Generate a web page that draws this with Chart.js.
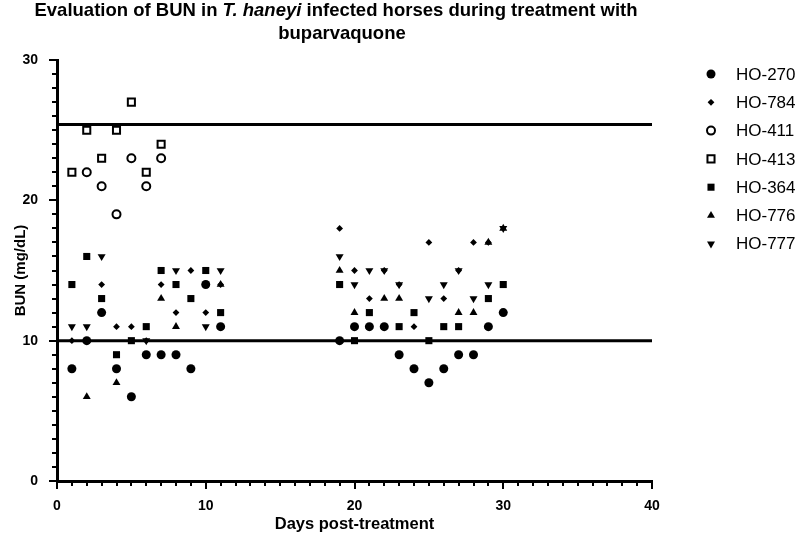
<!DOCTYPE html>
<html>
<head>
<meta charset="utf-8">
<script src="https://cdn.jsdelivr.net/npm/chart.js@4.4.1/dist/chart.umd.min.js"></script>
<style>
html,body{margin:0;padding:0;background:#fff;}
#wrap{width:796px;height:539px;position:relative;}
</style>
</head>
<body>
<div id="wrap"><canvas id="c" width="796" height="539"></canvas></div>
<script>
// ---- data ----
const days  = [1, 2, 3, 4, 5, 6, 7, 8, 9, 10, 11, 19, 20, 21, 22, 23, 24, 25, 26, 27, 28, 29, 30];
const horses = ['HO-270', 'HO-784', 'HO-411', 'HO-413', 'HO-364', 'HO-776', 'HO-777'];
const ho270 = [8, 10, 12, 8, 6, 9, 9, 9, 8, 14, 11, 10, 11, 11, 11, 9, 8, 7, 8, 9, 9, 11, 12];
const ho784 = [10, null, 14, 11, 11, 10, 14, 12, 15, 12, 14, 18, 15, 13, 15, 14, 11, 17, 13, 15, 17, 17, null];
const ho411 = [null, 22, 21, 19, 23, 21, 23, null, null, null, null, null, null, null, null, null, null, null, null, null, null, null, null];
const ho413 = [22, 25, 23, 25, 27, 22, 24, null, null, null, null, null, null, null, null, null, null, null, null, null, null, null, null];
const ho364 = [14, 16, 13, 9, 10, 11, 15, 14, 13, 15, 12, 14, 10, 12, null, 11, 12, 10, 11, 11, null, 13, 14];
const ho776 = [null, 6, null, 7, null, null, 13, 11, null, null, 14, 15, 12, null, 13, 13, null, null, null, 12, 12, 17, 18];
const ho777 = [11, 11, 16, null, null, 10, null, 15, null, 11, 15, 16, 14, 15, 15, 14, null, 13, 14, 15, 13, 14, 18];
const refLow = 10;
const refHigh = 25.4;
const xRange = [0, 40];
const yRange = [0, 30];
const xTickLabels = [0, 10, 20, 30, 40];
const yTickLabels = [0, 10, 20, 30];
const titleLine1 = ['Evaluation of BUN in ', 'T. haneyi', ' infected horses during treatment with'];
const titleLine2 = 'buparvaquone';

// ---- styles ----
const FONT = "'Liberation Sans', Arial, Helvetica, sans-serif";
Chart.defaults.font.family = FONT;
Chart.defaults.color = '#000';

const seriesVals = [ho270, ho784, ho411, ho413, ho364, ho776, ho777];
const styles = [
  {pointStyle: 'circle', radius: 4.5, rotation: 0, fill: '#000', bw: 0, order: 1},
  {pointStyle: 'rectRot', radius: 3.4, rotation: 0, fill: '#000', bw: 0, order: 5},
  {pointStyle: 'circle', radius: 4, rotation: 0, fill: '#fff', bw: 2, order: 6},
  {pointStyle: 'rect', radius: 5, rotation: 0, fill: '#fff', bw: 2, order: 7},
  {pointStyle: 'rect', radius: 5, rotation: 0, fill: '#000', bw: 0, order: 4},
  {pointStyle: 'triangle', radius: 4.6, rotation: 0, fill: '#000', bw: 0, order: 2},
  {pointStyle: 'triangle', radius: 4.6, rotation: 180, fill: '#000', bw: 0, order: 3}
];

const datasets = horses.map((name, i) => ({
  label: name,
  data: days.map((d, j) => ({x: d, y: seriesVals[i][j]})),
  showLine: false,
  pointStyle: styles[i].pointStyle,
  pointRadius: styles[i].radius,
  pointRotation: styles[i].rotation,
  pointBackgroundColor: styles[i].fill,
  pointBorderColor: '#000',
  pointBorderWidth: styles[i].bw,
  pointHoverRadius: styles[i].radius,
  order: styles[i].order,
  isSeries: true
}));
[refLow, refHigh].forEach(v => datasets.push({
  label: 'ref',
  data: [{x: xRange[0], y: v}, {x: xRange[1], y: v}],
  showLine: true,
  borderColor: '#000',
  borderWidth: 3,
  pointRadius: 0,
  order: 20,
  isSeries: false
}));

const overlay = {
  id: 'overlay',
  afterDraw(chart) {
    const ctx = chart.ctx;
    const area = chart.chartArea;
    const xs = chart.scales.x, ys = chart.scales.y;
    ctx.save();
    // tick marks
    ctx.strokeStyle = '#000';
    ctx.lineWidth = 2;
    xs.ticks.forEach(t => {
      const px = Math.round(xs.getPixelForValue(t.value));
      const len = xTickLabels.includes(t.value) ? 8 : 5;
      ctx.beginPath(); ctx.moveTo(px, area.bottom); ctx.lineTo(px, area.bottom + len); ctx.stroke();
    });
    ys.ticks.forEach(t => {
      const py = Math.round(ys.getPixelForValue(t.value));
      const len = yTickLabels.includes(t.value) ? 8 : 5;
      ctx.beginPath(); ctx.moveTo(area.left, py); ctx.lineTo(area.left - len, py); ctx.stroke();
    });
    // title with italic species name
    const fs = 18.5;
    const cx = 336;
    const fonts = [`bold ${fs}px ${FONT}`, `italic bold ${fs}px ${FONT}`, `bold ${fs}px ${FONT}`];
    let total = 0;
    const widths = titleLine1.map((s, i) => { ctx.font = fonts[i]; const w = ctx.measureText(s).width; total += w; return w; });
    let x = cx - total / 2;
    ctx.fillStyle = '#000';
    ctx.textBaseline = 'middle';
    ctx.textAlign = 'left';
    titleLine1.forEach((s, i) => { ctx.font = fonts[i]; ctx.fillText(s, x, 11); x += widths[i]; });
    ctx.font = fonts[0];
    ctx.textAlign = 'center';
    ctx.fillText(titleLine2, cx + 6, 34);
    // legend
    ctx.textAlign = 'left';
    ctx.font = `17px ${FONT}`;
    chart.data.datasets.filter(d => d.isSeries).forEach((d, i) => {
      const cy = 74 + i * 28.3;
      ctx.fillStyle = d.pointBackgroundColor;
      ctx.strokeStyle = '#000';
      ctx.lineWidth = d.pointBorderWidth;
      Chart.helpers.drawPoint(ctx, {pointStyle: d.pointStyle, rotation: d.pointRotation, radius: d.pointRadius, borderWidth: d.pointBorderWidth}, 711, cy);
      ctx.fillStyle = '#000';
      ctx.fillText(d.label, 736, cy + 1);
    });
    ctx.restore();
  }
};

new Chart(document.getElementById('c'), {
  type: 'scatter',
  data: {datasets},
  options: {
    responsive: false,
    animation: false,
    devicePixelRatio: 1,
    layout: {padding: {top: 60, left: 0, right: 144, bottom: 0}},
    plugins: {legend: {display: false}, tooltip: {enabled: false}, title: {display: false}},
    scales: {
      x: {
        type: 'linear', min: xRange[0], max: xRange[1],
        border: {display: true, color: '#000', width: 3},
        grid: {display: false},
        ticks: {
          stepSize: 1, autoSkip: false, maxRotation: 0, padding: 9,
          font: {size: 14, weight: 'bold'}, color: '#000',
          callback: v => xTickLabels.includes(v) ? String(v) : ''
        },
        title: {display: true, text: 'Days post-treatment', font: {size: 16.5, weight: 'bold'}, color: '#000', padding: {top: 0, bottom: 5}},
        afterFit: s => { s.height = 58; }
      },
      y: {
        type: 'linear', min: yRange[0], max: yRange[1],
        border: {display: true, color: '#000', width: 3},
        grid: {display: false},
        ticks: {
          stepSize: 1, autoSkip: false, padding: 11,
          font: {size: 14, weight: 'bold'}, color: '#000',
          callback: v => yTickLabels.includes(v) ? String(v) : ''
        },
        title: {display: true, text: 'BUN (mg/dL)', font: {size: 15, weight: 'bold'}, color: '#000', padding: {top: 12, bottom: 0}},
        afterFit: s => { s.width = 57; }
      }
    }
  },
  plugins: [overlay]
});
</script>
</body>
</html>
